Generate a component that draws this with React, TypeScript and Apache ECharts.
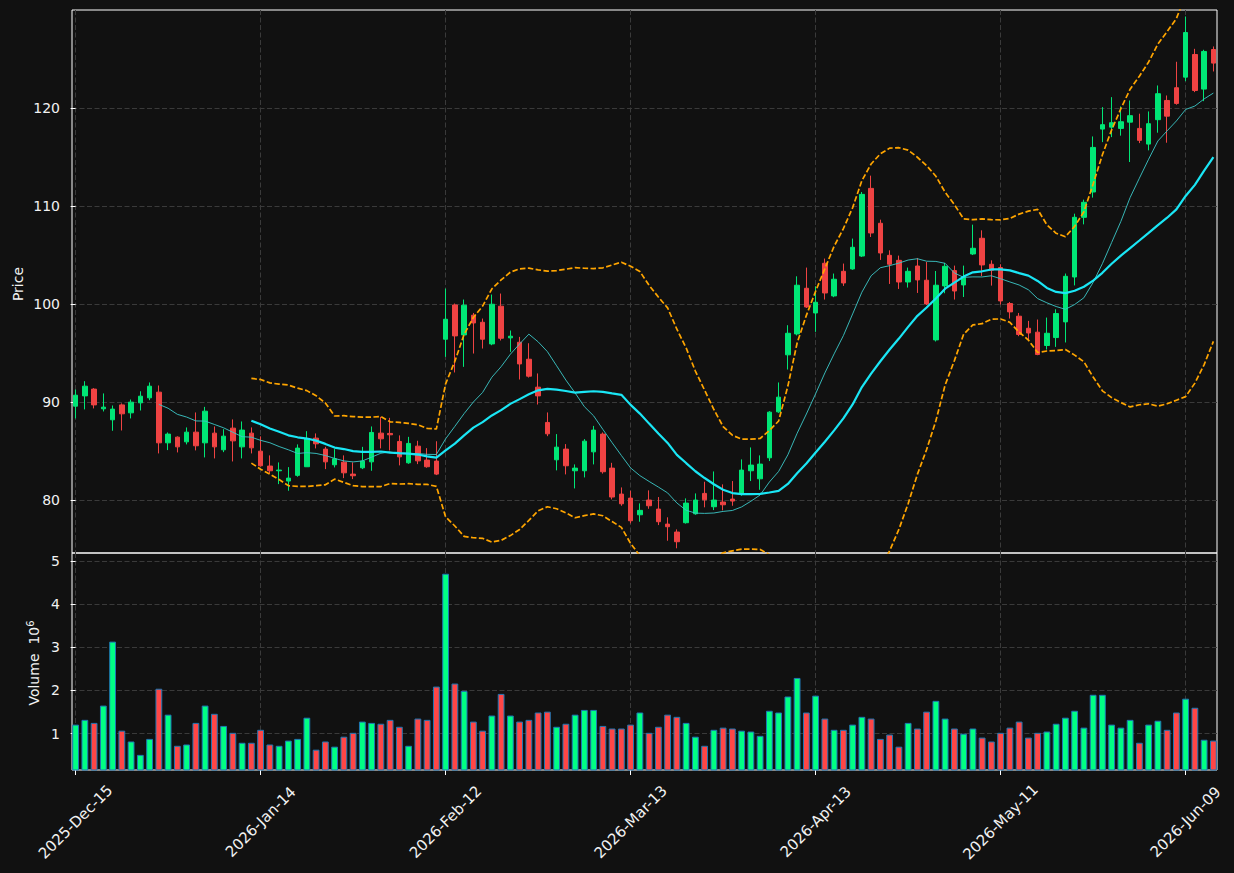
import React, { useEffect, useRef } from 'react';
import * as echarts from 'echarts';

// ---- data ----
const opens = [
  89.58, 90.63, 91.32, 89.31, 88.19, 89.71, 88.90, 89.92, 90.43, 91.01,
  85.84, 86.42, 85.94, 86.93, 85.84, 86.83, 85.13, 87.34, 85.43, 86.83,
  84.99, 83.47, 82.99, 81.94, 82.52, 83.40, 86.32, 85.20, 83.60, 83.87,
  82.65, 83.29, 83.90, 86.83, 86.80, 85.98, 83.80, 85.50, 84.08, 83.98,
  96.41, 99.91, 96.85, 98.86, 98.14, 95.93, 99.78, 96.55, 96.10, 94.37,
  91.52, 87.92, 84.11, 85.20, 82.99, 82.99, 84.92, 86.73, 83.26, 80.61,
  80.20, 78.50, 80.00, 79.08, 77.55, 76.74, 77.69, 78.60, 80.68, 79.32,
  79.80, 80.10, 80.64, 82.99, 82.17, 84.31, 89.00, 94.82, 96.95, 101.61,
  99.09, 104.16, 100.83, 103.34, 103.58, 104.90, 111.80, 108.24, 104.97, 104.46,
  102.25, 103.88, 102.43, 96.34, 101.85, 103.41, 101.95, 105.11, 106.71, 104.06,
  103.72, 100.05, 98.76, 97.53, 97.13, 95.77, 96.58, 98.18, 102.76, 108.85,
  111.43, 117.85, 118.05, 117.92, 118.56, 117.92, 116.32, 118.81, 120.77, 122.07,
  123.15, 125.46, 121.93, 125.97,
];
const closes = [
  90.70, 91.62, 89.71, 89.48, 89.28, 88.80, 89.99, 90.60, 91.62, 85.84,
  86.73, 85.43, 86.93, 85.54, 89.07, 85.43, 86.52, 86.04, 87.14, 85.33,
  83.50, 82.99, 83.06, 82.24, 85.30, 86.25, 85.74, 83.90, 84.21, 82.78,
  82.48, 83.98, 86.90, 86.25, 86.66, 84.41, 85.78, 84.00, 83.40, 82.65,
  98.45, 96.75, 99.88, 98.07, 96.41, 99.98, 96.51, 96.72, 93.89, 92.64,
  90.63, 86.76, 85.40, 83.50, 83.26, 86.01, 87.14, 82.89, 80.31, 79.62,
  77.89, 78.95, 79.42, 77.79, 77.28, 75.75, 79.69, 80.00, 80.03, 80.00,
  79.52, 79.90, 83.06, 83.57, 83.67, 88.97, 90.50, 97.02, 101.92, 99.70,
  100.18, 101.13, 102.53, 102.15, 105.79, 111.19, 107.25, 105.21, 104.06, 102.25,
  103.34, 102.46, 100.01, 101.92, 103.85, 101.33, 102.80, 105.69, 103.99, 103.45,
  100.32, 99.20, 96.89, 97.05, 94.85, 97.02, 99.03, 102.83, 108.85, 110.38,
  115.98, 118.30, 118.50, 118.60, 119.22, 116.70, 118.40, 121.46, 119.17, 120.47,
  127.70, 121.79, 125.77, 124.58,
];
const lows = [
  88.33, 89.25, 89.35, 89.04, 87.07, 87.10, 88.33, 89.14, 90.19, 84.76,
  85.10, 84.86, 85.68, 85.07, 84.35, 84.25, 84.89, 83.94, 84.25, 84.76,
  83.40, 82.72, 81.63, 80.95, 82.38, 83.40, 85.27, 83.16, 83.33, 82.24,
  82.14, 83.16, 82.99, 85.27, 85.07, 83.54, 83.70, 83.67, 83.30, 82.55,
  94.61, 93.02, 93.59, 94.95, 95.46, 95.80, 96.28, 95.12, 92.30, 92.50,
  89.75, 86.52, 83.03, 82.62, 81.19, 82.31, 83.64, 82.70, 80.07, 79.42,
  77.62, 77.79, 79.11, 77.45, 75.85, 75.08, 77.60, 78.50, 79.26, 78.98,
  78.95, 79.42, 80.44, 81.94, 81.05, 83.98, 88.90, 93.32, 96.80, 99.60,
  97.16, 100.46, 100.70, 101.85, 103.50, 104.80, 106.84, 104.50, 102.05, 101.54,
  101.68, 101.13, 99.90, 96.18, 101.10, 100.46, 100.72, 105.00, 102.86, 101.88,
  99.95, 98.52, 96.72, 96.31, 94.78, 95.36, 95.63, 96.08, 101.90, 108.13,
  110.86, 116.52, 117.03, 117.18, 114.49, 116.42, 115.68, 117.48, 116.46, 120.34,
  122.74, 121.62, 120.70, 123.73,
];
const highs = [
  91.28, 92.13, 91.42, 90.88, 89.65, 89.86, 90.26, 91.10, 92.00, 91.69,
  86.90, 86.50, 87.41, 88.94, 89.51, 87.51, 87.24, 88.23, 88.02, 87.41,
  86.50, 84.56, 83.84, 83.36, 85.68, 87.03, 86.80, 85.43, 85.20, 84.56,
  83.84, 85.43, 87.51, 88.49, 88.39, 86.60, 86.45, 86.05, 85.30, 86.00,
  101.58, 100.05, 100.46, 99.09, 98.52, 100.97, 101.07, 97.30, 96.65, 96.00,
  92.92, 88.94, 86.73, 85.71, 83.64, 86.22, 87.57, 86.90, 83.80, 81.29,
  80.95, 79.66, 80.99, 80.31, 78.24, 77.01, 80.17, 80.68, 81.87, 82.92,
  81.60, 81.94, 84.15, 85.37, 84.56, 89.07, 92.00, 97.84, 102.83, 103.72,
  101.81, 104.64, 103.11, 104.13, 106.68, 111.43, 113.10, 108.61, 105.48, 104.94,
  103.72, 104.70, 104.29, 103.37, 104.19, 103.92, 103.92, 108.10, 107.52, 104.46,
  104.06, 100.21, 99.09, 98.28, 98.42, 98.62, 99.47, 103.11, 109.22, 110.65,
  117.10, 120.09, 121.11, 120.16, 120.77, 119.42, 119.65, 122.30, 121.28, 124.72,
  129.34, 126.04, 125.94, 126.28,
];
// volume in millions
const volumes = [
  1.21, 1.32, 1.25, 1.65, 3.13, 1.07, 0.82, 0.51, 0.88, 2.04,
  1.44, 0.72, 0.75, 1.25, 1.65, 1.46, 1.18, 1.02, 0.79, 0.79,
  1.09, 0.75, 0.72, 0.84, 0.88, 1.37, 0.63, 0.82, 0.70, 0.93,
  1.02, 1.28, 1.25, 1.23, 1.32, 1.16, 0.72, 1.35, 1.32, 2.09,
  4.70, 2.16, 1.99, 1.28, 1.07, 1.42, 1.92, 1.42, 1.28, 1.32,
  1.49, 1.51, 1.16, 1.23, 1.44, 1.55, 1.55, 1.18, 1.12, 1.12,
  1.21, 1.49, 1.02, 1.16, 1.44, 1.39, 1.25, 0.93, 0.72, 1.09,
  1.14, 1.12, 1.07, 1.05, 0.95, 1.53, 1.49, 1.86, 2.29, 1.49,
  1.88, 1.35, 1.09, 1.09, 1.21, 1.39, 1.35, 0.88, 0.98, 0.70,
  1.25, 1.12, 1.51, 1.76, 1.35, 1.12, 1.00, 1.12, 0.91, 0.82,
  1.02, 1.14, 1.28, 0.91, 1.02, 1.05, 1.23, 1.37, 1.53, 1.14,
  1.90, 1.90, 1.21, 1.14, 1.32, 0.79, 1.21, 1.30, 1.09, 1.49,
  1.81, 1.60, 0.86, 0.84,
];
const tickIndex = [0, 20, 40, 60, 80, 100, 120];
const tickLabels = ['2025-Dec-15', '2026-Jan-14', '2026-Feb-12', '2026-Mar-13', '2026-Apr-13', '2026-May-11', '2026-Jun-09'];
const priceTicks = [80, 90, 100, 110, 120];
const volumeTicks = [1, 2, 3, 4, 5];

// ---- indicators computed from the closes ----
function sma(v: number[], n: number): [number, number][] {
  const out: [number, number][] = [];
  for (let i = n - 1; i < v.length; i++) {
    let s = 0;
    for (let j = i - n + 1; j <= i; j++) s += v[j];
    out.push([i, s / n]);
  }
  return out;
}
function band(v: number[], n: number, k: number): [number, number][] {
  const out: [number, number][] = [];
  for (let i = n - 1; i < v.length; i++) {
    const w = v.slice(i - n + 1, i + 1);
    const m = w.reduce((a, b) => a + b, 0) / n;
    const sd = Math.sqrt(w.reduce((a, b) => a + (b - m) * (b - m), 0) / n);
    out.push([i, m + k * sd]);
  }
  return out;
}

const BG = '#111111';
const UP = '#00e676';
const DOWN = '#ef4343';
const VUP = '#00ff84';
const VDOWN = '#ff4646';
const TXT = '#f2f2f2';
const GRID = '#3a3a3a';
const FONT = 'DejaVu Sans';

export default function App() {
  const ref = useRef<HTMLDivElement>(null);
  useEffect(() => {
    if (!ref.current) return;
    const chart = echarts.init(ref.current, undefined, { renderer: 'svg' });
    const candles = opens.map((o, i) => [i, o, closes[i], lows[i], highs[i]]);
    const vols = volumes.map((v, i) => ({
      value: [i, v],
      itemStyle: { color: closes[i] >= opens[i] ? VUP : VDOWN },
    }));
    const splitLine = { show: true, lineStyle: { color: GRID, type: [5, 2.5], width: 1 } };
    const xCommon = { type: 'value', min: -0.39, max: 123.39 };
    chart.setOption({
      animation: false,
      backgroundColor: BG,
      textStyle: { fontFamily: FONT },
      grid: [
        { left: 72, top: 10, width: 1145, height: 543, show: true, borderColor: '#ffffff', borderWidth: 1 },
        { left: 72, top: 553, width: 1145, height: 217, show: true, borderColor: '#ffffff', borderWidth: 1 },
      ],
      xAxis: [
        {
          ...xCommon, gridIndex: 0,
          axisLine: { show: false },
          axisTick: { show: false, customValues: tickIndex },
          axisLabel: { show: false, customValues: tickIndex },
          splitLine,
        },
        {
          ...xCommon, gridIndex: 1,
          axisLine: { show: false },
          axisTick: { show: true, customValues: tickIndex, length: 5, lineStyle: { color: '#ffffff' } },
          axisLabel: {
            customValues: tickIndex,
            formatter: (v: number) => tickLabels[tickIndex.indexOf(Math.round(v))] ?? '',
            rotate: 45, align: 'center', verticalAlign: 'middle', margin: 52,
            color: TXT, fontSize: 15, fontFamily: FONT,
          },
          splitLine,
        },
      ],
      yAxis: [
        {
          type: 'value', gridIndex: 0, min: 74.6, max: 130,
          axisLine: { show: false },
          axisTick: { show: true, customValues: priceTicks, length: 5, lineStyle: { color: '#ffffff' } },
          axisLabel: { customValues: priceTicks, color: TXT, fontSize: 14, margin: 12, fontFamily: FONT },
          splitLine,
        },
        {
          type: 'value', gridIndex: 1, min: 0.16, max: 5.18,
          axisLine: { show: false },
          axisTick: { show: true, customValues: volumeTicks, length: 5, lineStyle: { color: '#ffffff' } },
          axisLabel: { customValues: volumeTicks, color: TXT, fontSize: 14, margin: 12, fontFamily: FONT },
          splitLine,
        },
      ],
      series: [
        {
          type: 'candlestick', xAxisIndex: 0, yAxisIndex: 0,
          data: candles, encode: { x: 0, y: [1, 2, 3, 4] },
          barWidth: 5,
          itemStyle: { color: UP, color0: DOWN, borderColor: UP, borderColor0: DOWN, borderWidth: 1 },
        },
        {
          type: 'line', name: 'MA10', xAxisIndex: 0, yAxisIndex: 0, data: sma(closes, 10),
          showSymbol: false, lineStyle: { color: '#3cc8c8', width: 1, opacity: 0.9 },
        },
        {
          type: 'line', name: 'MA20', xAxisIndex: 0, yAxisIndex: 0, data: sma(closes, 20),
          showSymbol: false, lineStyle: { color: '#1ae6f5', width: 2.2 },
        },
        {
          type: 'line', name: 'BB upper', xAxisIndex: 0, yAxisIndex: 0, data: band(closes, 20, 2),
          showSymbol: false, clip: true, lineStyle: { color: '#ffa500', width: 1.7, type: [5.5, 2.4] },
        },
        {
          type: 'line', name: 'BB lower', xAxisIndex: 0, yAxisIndex: 0, data: band(closes, 20, -2),
          showSymbol: false, clip: true, lineStyle: { color: '#ffa500', width: 1.7, type: [5.5, 2.4] },
        },
        {
          type: 'bar', xAxisIndex: 1, yAxisIndex: 1, data: vols, barWidth: 6.8,
          itemStyle: { borderColor: '#1f77b4', borderWidth: 1 },
        },
      ],
      graphic: [
        {
          type: 'text', x: 18, y: 284, rotation: Math.PI / 2,
          style: { text: 'Price', fill: TXT, fontSize: 14, fontFamily: FONT, align: 'center', verticalAlign: 'middle' },
        },
        {
          type: 'text', x: 34, y: 663, rotation: Math.PI / 2,
          style: {
            text: '{a|Volume  10}{b|6}',
            align: 'center', verticalAlign: 'middle',
            rich: {
              a: { fontSize: 14, fill: TXT, fontFamily: FONT, lineHeight: 18 },
              b: { fontSize: 10, fill: TXT, fontFamily: FONT, verticalAlign: 'top', lineHeight: 18 },
            },
          },
        },
      ],
    });
    return () => chart.dispose();
  }, []);
  return (
    <div
      ref={ref}
      style={{ position: 'fixed', left: 0, top: 0, width: 1234, height: 873, background: BG }}
    />
  );
}
